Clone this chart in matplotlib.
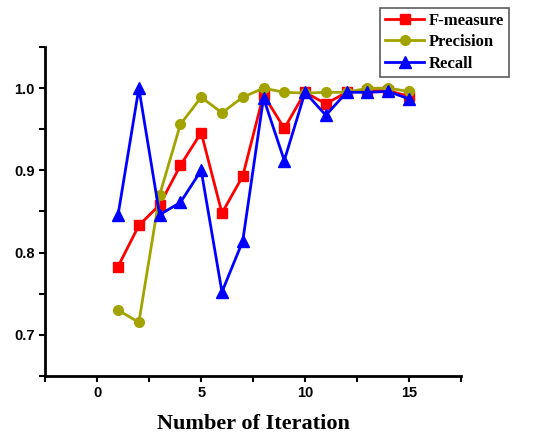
import matplotlib
matplotlib.use("Agg")
import matplotlib.pyplot as plt
from matplotlib.ticker import MultipleLocator, FormatStrFormatter

iterations = list(range(1, 16))
f_measure = [0.783, 0.833, 0.858, 0.906, 0.946, 0.848, 0.893, 0.992, 0.951,
             0.995, 0.981, 0.995, 0.997, 0.997, 0.990]
precision = [0.730, 0.715, 0.870, 0.956, 0.989, 0.970, 0.989, 1.000, 0.995,
             0.994, 0.995, 0.995, 1.000, 1.000, 0.996]
recall = [0.846, 1.000, 0.846, 0.861, 0.900, 0.752, 0.814, 0.988, 0.912,
          0.995, 0.967, 0.995, 0.995, 0.996, 0.987]

fig = plt.figure(figsize=(5.6, 4.36), dpi=100)
ax = fig.add_axes([0.081, 0.138, 0.742, 0.754])

ax.plot(iterations, f_measure, color="#ff0000", marker="s", markersize=7,
        linewidth=2, label="F-measure")
ax.plot(iterations, precision, color="#a3a300", marker="o", markersize=7,
        linewidth=2, label="Precision")
ax.plot(iterations, recall, color="#0000ff", marker="^", markersize=8,
        linewidth=2, label="Recall")

ax.set_xlim(-2.5, 17.5)
ax.set_ylim(0.65, 1.05)
ax.xaxis.set_major_locator(MultipleLocator(5))
ax.xaxis.set_minor_locator(MultipleLocator(2.5))
ax.yaxis.set_major_locator(MultipleLocator(0.1))
ax.yaxis.set_minor_locator(MultipleLocator(0.05))
ax.yaxis.set_major_formatter(FormatStrFormatter("%.1f"))

for side in ("top", "right"):
    ax.spines[side].set_visible(False)
for side in ("left", "bottom"):
    ax.spines[side].set_linewidth(2)

ax.tick_params(which="both", direction="out", width=1.5, length=4)
for lab in ax.get_xticklabels() + ax.get_yticklabels():
    lab.set_fontfamily("Liberation Sans")
    lab.set_fontweight("bold")
    lab.set_fontsize(10.5)

ax.set_xlabel("Number of Iteration", fontfamily="Liberation Serif",
              fontweight="bold", fontsize=16, labelpad=10)

leg = fig.legend(*ax.get_legend_handles_labels(), loc="upper right",
                 bbox_to_anchor=(0.909, 0.982),
                 prop={"family": "Liberation Serif", "weight": "bold", "size": 12},
                 frameon=True, fancybox=False, handlelength=2.3,
                 handletextpad=0.3, borderpad=0.3, labelspacing=0.32,
                 borderaxespad=0)
leg.get_frame().set_edgecolor("#333333")
leg.get_frame().set_linewidth(1.2)

fig.savefig("out.png", dpi=100)
